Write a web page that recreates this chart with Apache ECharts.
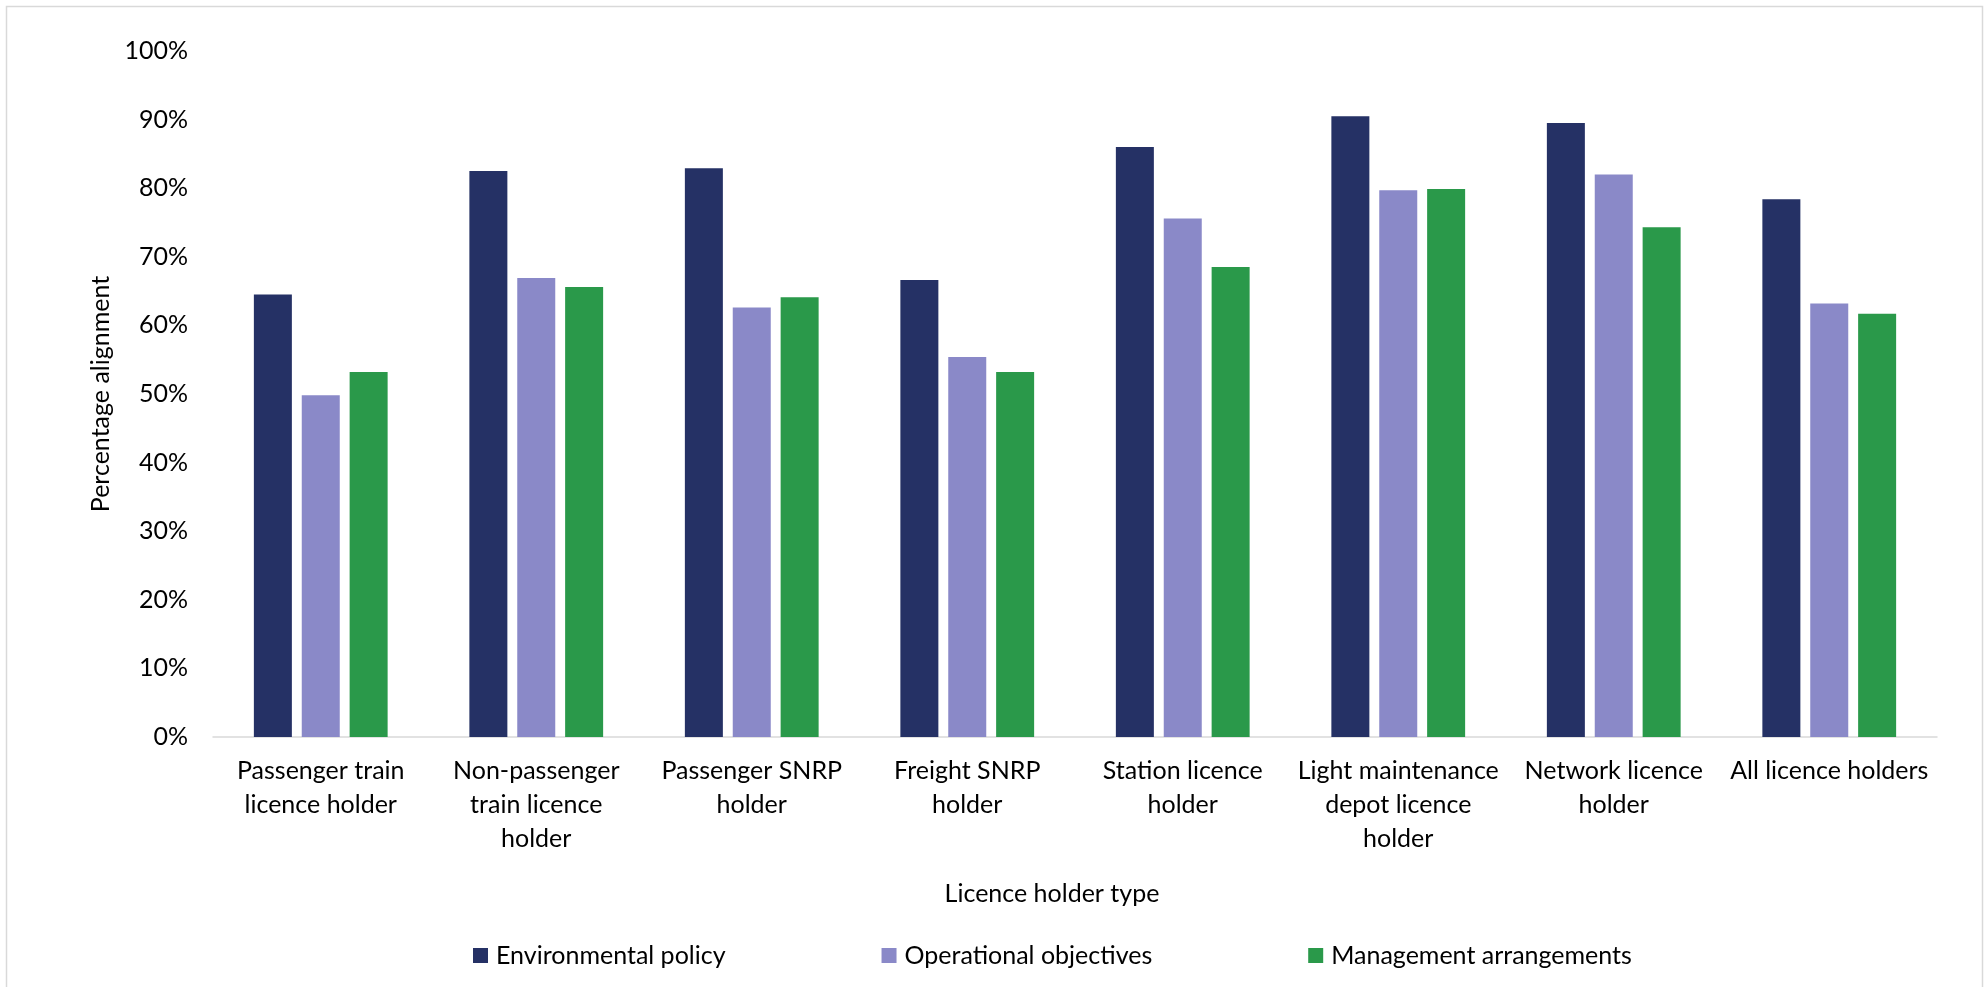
<!DOCTYPE html>
<html>
<head>
<meta charset="utf-8">
<title>Percentage alignment by licence holder type</title>
<script src="https://cdn.jsdelivr.net/npm/echarts@6/dist/echarts.min.js"></script>
<style>
  html, body { margin: 0; padding: 0; background: #ffffff; }
  #chart { width: 1988px; height: 987px; }
</style>
</head>
<body>
<div id="chart"></div>
<script>
// Licence holder types (line breaks follow the wrapped axis labels)
const categories = [
  'Passenger train\nlicence holder',
  'Non-passenger\ntrain licence\nholder',
  'Passenger SNRP\nholder',
  'Freight SNRP\nholder',
  'Station licence\nholder',
  'Light maintenance\ndepot licence\nholder',
  'Network licence\nholder',
  'All licence holders'
];

// Percentage alignment per series
const environmentalPolicy    = [64.5, 82.5, 82.9, 66.6, 86.0, 90.5, 89.5, 78.4];
const operationalObjectives  = [49.8, 66.9, 62.6, 55.4, 75.6, 79.7, 82.0, 63.2];
const managementArrangements = [53.2, 65.6, 64.1, 53.2, 68.5, 79.9, 74.3, 61.7];

const seriesNames = ['Environmental policy', 'Operational objectives', 'Management arrangements'];
const seriesColors = ['#253165', '#8a89c8', '#2a994a'];

// Value axis ticks
const yMin = 0;
const yMax = 100;
const yStep = 10;

const FONT = 'Lato, "Open Sans", sans-serif';
const TEXT = '#000000';
const FS = 25;

const chart = echarts.init(document.getElementById('chart'), null, { renderer: 'canvas' });

const seriesData = [environmentalPolicy, operationalObjectives, managementArrangements];

chart.setOption({
  animation: false,
  backgroundColor: '#ffffff',
  textStyle: { fontFamily: FONT, color: TEXT },
  graphic: [{
    type: 'rect',
    shape: { x: 6.5, y: 6.5, width: 1976, height: 1000 },
    style: { fill: 'none', stroke: '#d9d9d9', lineWidth: 1.5 },
    silent: true
  }],
  grid: { left: 213, right: 51, top: 51, bottom: 250, containLabel: false },
  legend: {
    left: 468,
    top: 938,
    icon: 'rect',
    itemWidth: 15,
    itemHeight: 15,
    itemGap: 156,
    textStyle: { fontFamily: FONT, fontSize: FS, color: TEXT, padding: [0, 0, 0, 3] },
    data: seriesNames
  },
  xAxis: {
    type: 'category',
    data: categories,
    name: 'Licence holder type',
    nameLocation: 'middle',
    nameGap: 144,
    nameTextStyle: { fontFamily: FONT, fontSize: FS, color: TEXT, lineHeight: 25, padding: [0, 46, 0, 0] },
    axisLine: { show: true, lineStyle: { color: '#d9d9d9', width: 1.5 } },
    axisTick: { show: false },
    axisLabel: {
      interval: 0,
      margin: 17,
      fontFamily: FONT,
      fontSize: FS,
      lineHeight: 34,
      color: TEXT,
      align: 'center'
    },
    splitLine: { show: false }
  },
  yAxis: {
    type: 'value',
    min: yMin,
    max: yMax,
    interval: yStep,
    name: 'Percentage alignment',
    nameLocation: 'middle',
    nameGap: 96,
    nameTextStyle: { fontFamily: FONT, fontSize: FS, color: TEXT },
    axisLine: { show: false },
    axisTick: { show: false },
    splitLine: { show: false },
    axisLabel: {
      margin: 25,
      fontFamily: FONT,
      fontSize: FS,
      color: TEXT,
      formatter: v => v + '%'
    }
  },
  series: seriesNames.map((name, i) => ({
    name,
    type: 'bar',
    data: seriesData[i],
    barWidth: 38,
    barGap: '26%',
    itemStyle: { color: seriesColors[i] }
  }))
});
</script>
</body>
</html>
